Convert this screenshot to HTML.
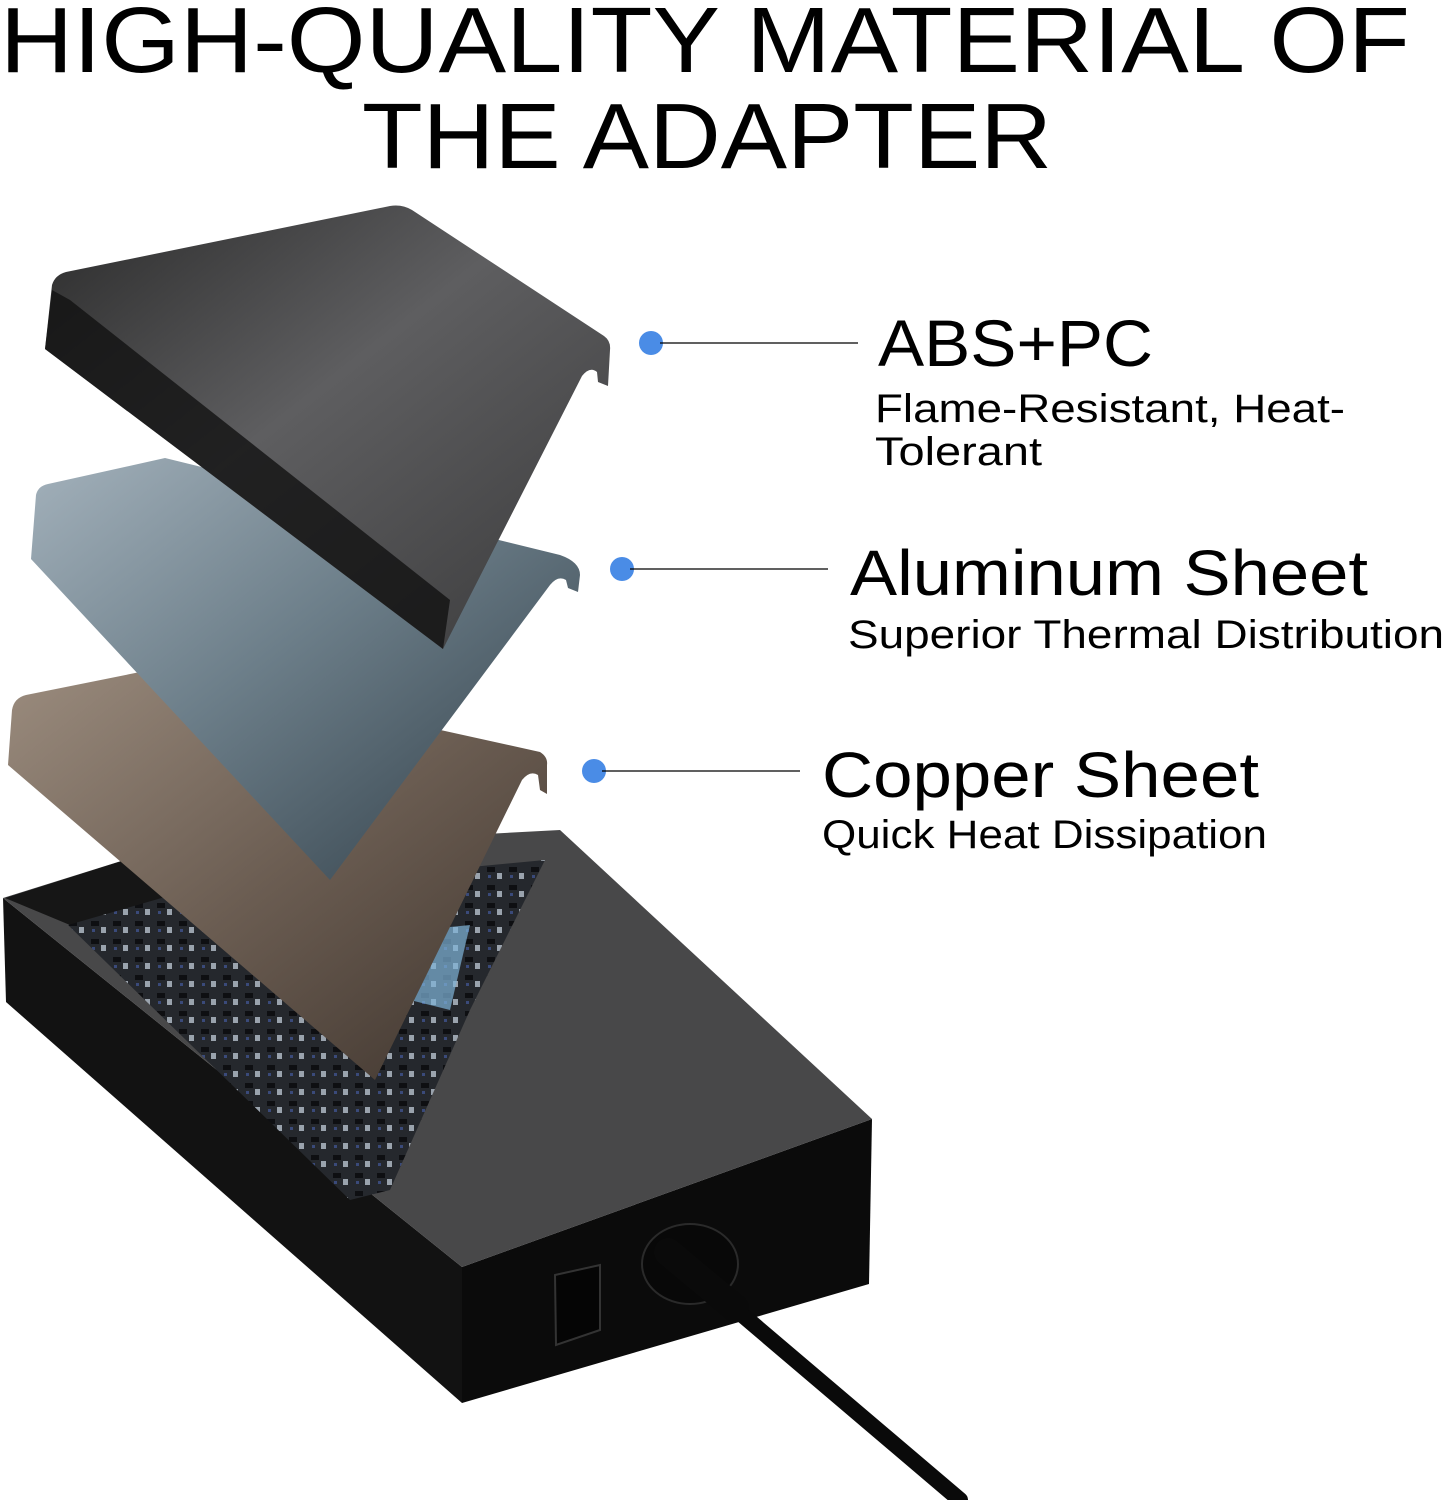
<!DOCTYPE html>
<html><head><meta charset="utf-8"><style>
html,body{margin:0;padding:0;background:#fff;}
svg{display:block;}
text{font-family:"Liberation Sans",Arial,sans-serif;fill:#000;}
</style></head><body>
<svg width="1446" height="1500" viewBox="0 0 1446 1500" xmlns="http://www.w3.org/2000/svg">
<defs>
<linearGradient id="gBlack" x1="0" y1="0" x2="1" y2="1">
<stop offset="0" stop-color="#2a2a2a"/><stop offset="0.45" stop-color="#5e5e60"/><stop offset="1" stop-color="#3a3a3b"/></linearGradient>
<linearGradient id="gAl" x1="0" y1="0" x2="1" y2="1">
<stop offset="0" stop-color="#a3b1bb"/><stop offset="0.45" stop-color="#6c7e89"/><stop offset="1" stop-color="#2f3c45"/></linearGradient>
<linearGradient id="gCu" x1="0" y1="0" x2="1" y2="1">
<stop offset="0" stop-color="#9b8c7e"/><stop offset="0.5" stop-color="#6b5d52"/><stop offset="1" stop-color="#3d332c"/></linearGradient>
<pattern id="pcb" width="22" height="18" patternUnits="userSpaceOnUse">
<rect width="22" height="18" fill="#25282d"/><rect x="3" y="3" width="8" height="5" fill="#0e0f12"/><rect x="13" y="9" width="5" height="6" fill="#9aa3ad"/><rect x="4" y="11" width="3" height="3" fill="#3a4a7a"/></pattern>
</defs>

<text x="0" y="72" font-size="93" textLength="1410" lengthAdjust="spacingAndGlyphs">HIGH-QUALITY MATERIAL OF</text>
<text x="362" y="168" font-size="93" textLength="690" lengthAdjust="spacingAndGlyphs">THE ADAPTER</text>

<!-- box -->
<polygon points="3,898 462,1267 462,1403 6,1002" fill="#121212"/>
<polygon points="462,1267 872,1119 869,1284 462,1403" fill="#0b0b0b"/>
<polygon points="3,898 150,852 560,830 872,1119 462,1267" fill="#484849"/>
<polygon points="5,898 150,852 175,895 70,925" fill="#161616"/>
<polygon points="68,925 172,895 440,870 545,860 470,1010 390,1190 350,1200" fill="url(#pcb)"/>
<polygon points="420,930 470,925 450,1010 410,1000" fill="#7fb3d8" opacity="0.7"/>
<ellipse cx="690" cy="1264" rx="48" ry="40" fill="#080808" stroke="#2a2a2a" stroke-width="2"/>
<polygon points="555,1275 600,1265 600,1330 556,1345" fill="#050505" stroke="#333" stroke-width="2"/>
<line x1="680" y1="1262" x2="960" y2="1500" stroke="#0a0a0a" stroke-width="16" stroke-linecap="round"/>
<line x1="668" y1="1252" x2="735" y2="1308" stroke="#0a0a0a" stroke-width="28" stroke-linecap="round"/>

<!-- copper -->
<path d="M8,765 L12,710 Q14,698 26,695 L160,668 L540,752 Q548,757 547,765 L547,794 L540,790 L538,775 Q530,770 522,780 L375,1080 Z" fill="url(#gCu)"/>
<!-- aluminum -->
<path d="M31,559 L36,495 Q38,486 48,484 L165,458 L560,555 Q580,562 580,575 L578,592 L568,588 L566,580 Q558,575 550,585 L330,880 Z" fill="url(#gAl)"/>
<!-- black cover -->
<path d="M45,349 L52,285 Q55,275 66,272 L390,206 Q402,204 412,210 L604,336 Q611,341 610,350 L608,386 L598,382 L597,372 Q590,366 582,376 L443,649 Z" fill="url(#gBlack)"/>
<path d="M45,349 L52,290 L70,300 L450,600 L443,649 Z" fill="#111" opacity="0.8"/>

<!-- callouts -->
<circle cx="651" cy="343" r="12" fill="#4a8ce6"/>
<line x1="660" y1="343" x2="858" y2="343" stroke="#000" stroke-width="1.3"/>
<circle cx="622" cy="569" r="12" fill="#4a8ce6"/>
<line x1="630" y1="569" x2="828" y2="569" stroke="#000" stroke-width="1.3"/>
<circle cx="594" cy="771" r="12" fill="#4a8ce6"/>
<line x1="602" y1="771" x2="800" y2="771" stroke="#000" stroke-width="1.3"/>

<text x="878" y="366" font-size="66" textLength="275" lengthAdjust="spacingAndGlyphs">ABS+PC</text>
<text x="875" y="422" font-size="40" textLength="470" lengthAdjust="spacingAndGlyphs">Flame-Resistant, Heat-</text>
<text x="875" y="465" font-size="40" textLength="167" lengthAdjust="spacingAndGlyphs">Tolerant</text>
<text x="850" y="595" font-size="64" textLength="518" lengthAdjust="spacingAndGlyphs">Aluminum Sheet</text>
<text x="848" y="648" font-size="40" textLength="596" lengthAdjust="spacingAndGlyphs">Superior Thermal Distribution</text>
<text x="822" y="797" font-size="64" textLength="437" lengthAdjust="spacingAndGlyphs">Copper Sheet</text>
<text x="822" y="848" font-size="40" textLength="445" lengthAdjust="spacingAndGlyphs">Quick Heat Dissipation</text>
</svg>
</body></html>
